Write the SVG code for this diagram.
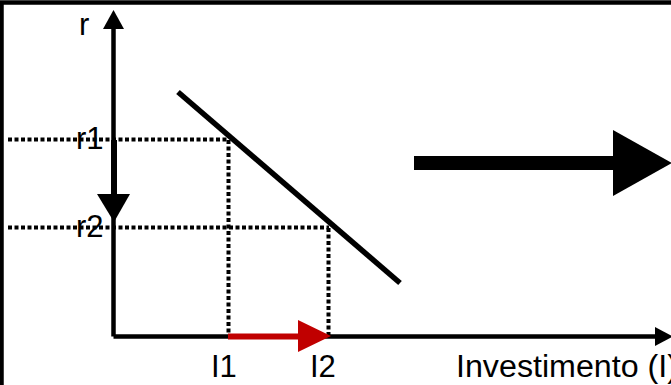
<svg xmlns="http://www.w3.org/2000/svg" width="671" height="385" viewBox="0 0 671 385">
<style>
.lbl{font-family:"Liberation Sans",Arial,sans-serif;font-size:31px;fill:#000}
.dot{stroke:#000;stroke-width:4;stroke-dasharray:4 2.5;fill:none}
.ax{stroke:#000;stroke-width:4.5;fill:none}
</style>
<rect width="671" height="385" fill="#fff"/>
<g id="frame"><path d="M1.5,400 V2.5 H700" fill="none" stroke="#000" stroke-width="4.5"/></g>
<g id="guides">
<path class="dot" d="M8,139.5 H229"/>
<path class="dot" d="M8,227.5 H329"/>
<path class="dot" d="M228.5,140 V335"/>
<path class="dot" d="M328.5,228 V335"/>
</g>
<g id="curve"><path d="M178,92 L400,283" stroke="#000" stroke-width="5.5"/></g>
<g id="connectors">
<path class="ax" d="M113.5,336.5 V28"/>
<polygon points="103,29 124,29 113.5,10" fill="#000"/>
<path class="ax" d="M113.5,336.5 H656"/>
<polygon points="655,327 655,346 673,336.5" fill="#000"/>
<path d="M114,140 V195" stroke="#000" stroke-width="6"/>
<polygon points="97,194 130,194 114,222" fill="#000"/>
<path d="M228,336.5 H299" stroke="#c00000" stroke-width="6"/>
<polygon points="298,320 298,352 331,336" fill="#c00000"/>
<path d="M414,163 H614" stroke="#000" stroke-width="14"/>
<polygon points="613,130 613,196 672,163" fill="#000"/>
</g>
<g id="labels">
<text class="lbl" x="79" y="35">r</text>
<text class="lbl" x="76" y="149">r1</text>
<text class="lbl" x="76" y="237">r2</text>
<text class="lbl" x="211" y="377">I1</text>
<text class="lbl" x="310" y="377">I2</text>
<text class="lbl" x="456" y="377" textLength="222" lengthAdjust="spacingAndGlyphs">Investimento (I)</text>
</g>
</svg>
